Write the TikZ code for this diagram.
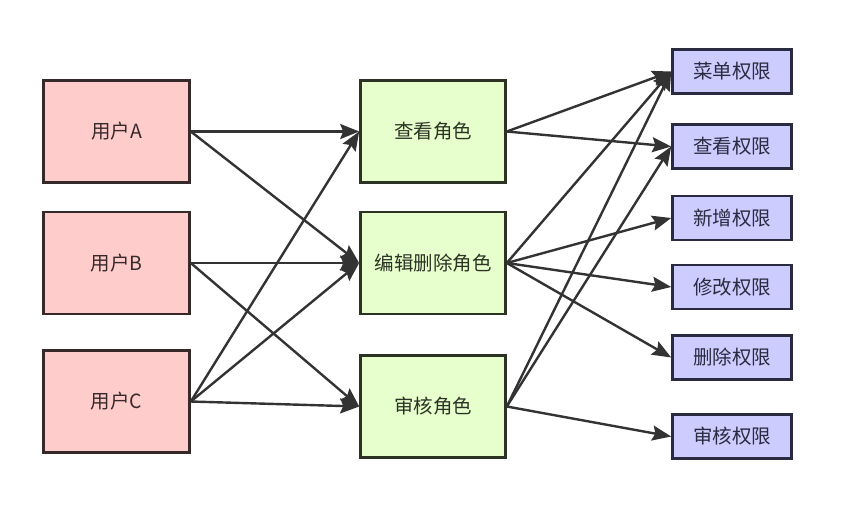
\documentclass[tikz,border=0pt]{standalone}
\usepackage{fontspec}
\setmainfont{Noto Sans CJK SC}
\usepackage{tikz}
\usetikzlibrary{arrows.meta}
\definecolor{userfill}{HTML}{FFCCCC}
\definecolor{userdraw}{HTML}{36292A}
\definecolor{rolefill}{HTML}{E6FFCC}
\definecolor{roledraw}{HTML}{2C3325}
\definecolor{permfill}{HTML}{CCCCFF}
\definecolor{permdraw}{HTML}{2A2A40}
\definecolor{linkdark}{HTML}{333333}
\tikzset{
  userbox/.style={draw=userdraw,fill=userfill,line width=2.6pt,minimum width=146pt,minimum height=102pt,inner sep=0pt,text=userdraw,font=\fontsize{19.5}{22}\selectfont},
  rolebox/.style={draw=roledraw,fill=rolefill,line width=2.6pt,minimum width=145pt,minimum height=102pt,inner sep=0pt,text=roledraw,font=\fontsize{19.5}{22}\selectfont},
  permbox/.style={draw=permdraw,fill=permfill,line width=2.6pt,minimum width=119pt,minimum height=44pt,inner sep=0pt,text=permdraw,font=\fontsize{19.5}{22}\selectfont},
  link/.style={-{Stealth[length=19pt,width=15pt,inset=3pt]},draw=linkdark,line width=2.4pt}
}
\begin{document}
\begin{tikzpicture}[x=1pt,y=1pt]
\useasboundingbox (0,0) rectangle (859,-520);
\node[userbox] (ua) at (116.5,-131.5) {用户A};
\node[userbox] (ub) at (116.5,-263) {用户B};
\node[userbox] (uc) at (116.5,-401.5) {用户C};
\node[rolebox] (rv) at (433,-131.5) {查看角色};
\node[rolebox] (re) at (433,-263) {编辑删除角色};
\node[rolebox] (rr) at (433,-406.5) {审核角色};
\node[permbox] (pm) at (732,-71.5) {菜单权限};
\node[permbox] (pv) at (732,-146.5) {查看权限};
\node[permbox] (pa) at (732,-218) {新增权限};
\node[permbox] (pe) at (732,-287) {修改权限};
\node[permbox] (pd) at (732,-357.5) {删除权限};
\node[permbox] (pr) at (732,-436.5) {审核权限};
\foreach \a/\b in {ua/rv,ua/re,ub/re,ub/rr,uc/rv,uc/re,uc/rr,
  rv/pm,rv/pv,re/pm,re/pa,re/pe,re/pd,rr/pm,rr/pv,rr/pr}{\draw[link] (\a.east) -- (\b.west);}
\end{tikzpicture}
\end{document}
